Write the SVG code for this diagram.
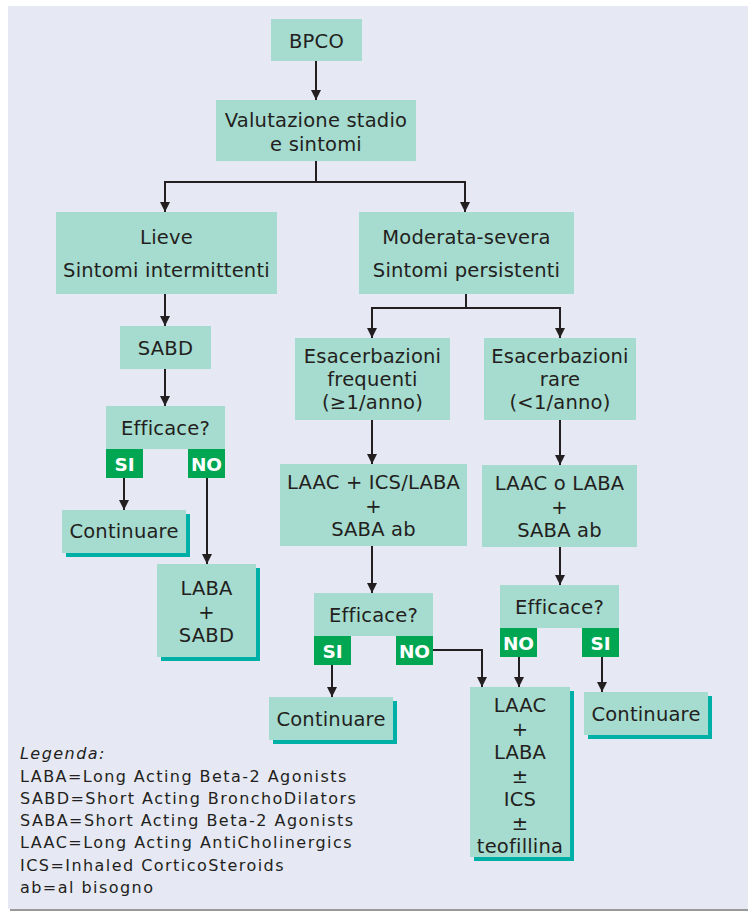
<svg xmlns="http://www.w3.org/2000/svg" width="748" height="911" viewBox="0 0 748 911">
<defs>
<marker id="ah" viewBox="0 0 10 10" refX="10" refY="5" markerWidth="10" markerHeight="10" markerUnits="userSpaceOnUse" orient="auto">
<path d="M0,0 L10,5 L0,10 z" fill="#231f20"/>
</marker>
<style>
.box{fill:#a6dbcf}
.sh{fill:#00b0a6}
.badge{fill:#00a651}
.t{font-family:"DejaVu Sans",Verdana,sans-serif;font-size:19.5px;fill:#231f20;text-anchor:middle;letter-spacing:0.2px}
.b{font-family:"DejaVu Sans",Verdana,sans-serif;font-size:18.5px;font-weight:bold;fill:#ffffff;text-anchor:middle}
.lg{font-family:"DejaVu Sans",Verdana,sans-serif;font-size:16px;fill:#231f20;letter-spacing:1.45px}
.c{fill:none;stroke:#231f20;stroke-width:2}
</style>
</defs>
<rect x="8" y="6" width="740" height="903" fill="#e6e9f3"/>
<line x1="10" y1="910" x2="748" y2="910" stroke="#777" stroke-width="1.5"/>

<g id="connectors">
<path class="c" d="M316,61 V100" marker-end="url(#ah)"/>
<path class="c" d="M316,161 V182 M165,182 H465"/>
<path class="c" d="M165,181 V212" marker-end="url(#ah)"/>
<path class="c" d="M465,181 V212" marker-end="url(#ah)"/>
<path class="c" d="M165,294 V326" marker-end="url(#ah)"/>
<path class="c" d="M165,369 V406" marker-end="url(#ah)"/>
<path class="c" d="M124,478 V510" marker-end="url(#ah)"/>
<path class="c" d="M207,478 V564" marker-end="url(#ah)"/>
<path class="c" d="M466,294 V308 M371,308 H561"/>
<path class="c" d="M372,307 V338" marker-end="url(#ah)"/>
<path class="c" d="M560,307 V338" marker-end="url(#ah)"/>
<path class="c" d="M372,420 V464" marker-end="url(#ah)"/>
<path class="c" d="M560,420 V465" marker-end="url(#ah)"/>
<path class="c" d="M372,546 V593" marker-end="url(#ah)"/>
<path class="c" d="M560,547 V585" marker-end="url(#ah)"/>
<path class="c" d="M332,665 V697" marker-end="url(#ah)"/>
<path class="c" d="M433,650 H482 V687" marker-end="url(#ah)"/>
<path class="c" d="M519,657 V687" marker-end="url(#ah)"/>
<path class="c" d="M602,657 V692" marker-end="url(#ah)"/>
</g>

<g id="bpco">
<rect class="box" x="271" y="19" width="91" height="42"/>
<text class="t" x="316.5" y="47.5" font-size="20.5">BPCO</text>
</g>
<g id="valutazione">
<rect class="box" x="216" y="100" width="200" height="61"/>
<text class="t" x="316" y="127">Valutazione stadio</text>
<text class="t" x="316" y="151">e sintomi</text>
</g>
<g id="lieve">
<rect class="box" x="56" y="212" width="221" height="82"/>
<text class="t" x="166.5" y="244">Lieve</text>
<text class="t" x="166.5" y="277">Sintomi intermittenti</text>
</g>
<g id="moderata">
<rect class="box" x="359" y="212" width="215" height="82"/>
<text class="t" x="466.5" y="244">Moderata-severa</text>
<text class="t" x="466.5" y="277">Sintomi persistenti</text>
</g>
<g id="sabd">
<rect class="box" x="120" y="326" width="91" height="43"/>
<text class="t" x="165.5" y="355">SABD</text>
</g>
<g id="efficace1">
<rect class="box" x="106" y="406" width="119" height="43"/>
<text class="t" x="165.5" y="435">Efficace?</text>
<rect class="badge" x="106" y="449" width="37" height="29"/>
<text class="b" x="124.5" y="471">SI</text>
<rect class="badge" x="188" y="449" width="37" height="29"/>
<text class="b" x="206.5" y="471">NO</text>
</g>
<g id="continuare1">
<rect class="sh" x="66" y="514" width="124" height="43"/>
<rect class="box" x="62" y="510" width="124" height="43"/>
<text class="t" x="124" y="538">Continuare</text>
</g>
<g id="laba-sabd">
<rect class="sh" x="161" y="568" width="99" height="93"/>
<rect class="box" x="157" y="564" width="99" height="93"/>
<text class="t" x="206.5" y="595">LABA</text>
<text class="t" x="206.5" y="618.5">+</text>
<text class="t" x="206.5" y="642">SABD</text>
</g>
<g id="esac-frequenti">
<rect class="box" x="295" y="338" width="155" height="82"/>
<text class="t" x="372.5" y="363">Esacerbazioni</text>
<text class="t" x="372.5" y="386">frequenti</text>
<text class="t" x="372.5" y="409">(≥1/anno)</text>
</g>
<g id="esac-rare">
<rect class="box" x="484" y="338" width="152" height="82"/>
<text class="t" x="560" y="363">Esacerbazioni</text>
<text class="t" x="560" y="386">rare</text>
<text class="t" x="560" y="409">(&lt;1/anno)</text>
</g>
<g id="laac-ics-laba">
<rect class="box" x="280" y="464" width="187" height="82"/>
<text class="t" x="373.5" y="489">LAAC + ICS/LABA</text>
<text class="t" x="373.5" y="512.5">+</text>
<text class="t" x="373.5" y="536">SABA ab</text>
</g>
<g id="laac-o-laba">
<rect class="box" x="482" y="465" width="155" height="82"/>
<text class="t" x="559.5" y="490">LAAC o LABA</text>
<text class="t" x="559.5" y="513.5">+</text>
<text class="t" x="559.5" y="537">SABA ab</text>
</g>
<g id="efficace2">
<rect class="box" x="314" y="593" width="119" height="43"/>
<text class="t" x="373.5" y="622">Efficace?</text>
<rect class="badge" x="314" y="636" width="37" height="29"/>
<text class="b" x="332.5" y="658">SI</text>
<rect class="badge" x="396" y="636" width="37" height="29"/>
<text class="b" x="414.5" y="658">NO</text>
</g>
<g id="efficace3">
<rect class="box" x="500" y="585" width="119" height="43"/>
<text class="t" x="559.5" y="614">Efficace?</text>
<rect class="badge" x="500" y="628" width="37" height="29"/>
<text class="b" x="518.5" y="650">NO</text>
<rect class="badge" x="582" y="628" width="37" height="29"/>
<text class="b" x="600.5" y="650">SI</text>
</g>
<g id="continuare2">
<rect class="sh" x="273" y="701" width="124" height="43"/>
<rect class="box" x="269" y="697" width="124" height="43"/>
<text class="t" x="331" y="726">Continuare</text>
</g>
<g id="laac-laba-ics-teo">
<rect class="sh" x="474" y="691" width="100" height="170"/>
<rect class="box" x="470" y="687" width="100" height="170"/>
<text class="t" x="520" y="712">LAAC</text>
<text class="t" x="520" y="735.5">+</text>
<text class="t" x="520" y="759">LABA</text>
<text class="t" x="520" y="782.5">±</text>
<text class="t" x="520" y="806">ICS</text>
<text class="t" x="520" y="829.5">±</text>
<text class="t" x="520" y="853">teofillina</text>
</g>
<g id="continuare3">
<rect class="sh" x="588" y="696" width="124" height="43"/>
<rect class="box" x="584" y="692" width="124" height="43"/>
<text class="t" x="646" y="721">Continuare</text>
</g>
<g id="legenda">
<text class="lg" x="20" y="759" font-style="italic">Legenda:</text>
<text class="lg" x="20" y="782">LABA=Long Acting Beta-2 Agonists</text>
<text class="lg" x="20" y="804">SABD=Short Acting BronchoDilators</text>
<text class="lg" x="20" y="826">SABA=Short Acting Beta-2 Agonists</text>
<text class="lg" x="20" y="848">LAAC=Long Acting AntiCholinergics</text>
<text class="lg" x="20" y="871">ICS=Inhaled CorticoSteroids</text>
<text class="lg" x="20" y="893">ab=al bisogno</text>
</g>
</svg>
